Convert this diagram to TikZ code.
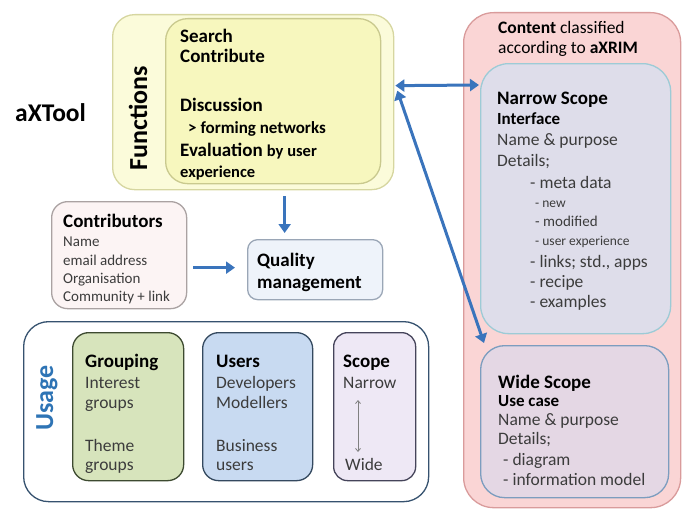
\documentclass[tikz,border=0pt]{standalone}
\usepackage{fontspec}
\setmainfont{Carlito}
\usetikzlibrary{arrows.meta}

\definecolor{funcOuterFill}{HTML}{FBFBDA}
\definecolor{funcOuterLine}{HTML}{D6D6A0}
\definecolor{funcInnerFill}{HTML}{F7F7BE}
\definecolor{funcInnerLine}{HTML}{C9C98E}
\definecolor{contribFill}{HTML}{FCF4F4}
\definecolor{contribLine}{HTML}{AAA2A2}
\definecolor{qualFill}{HTML}{EEF3FA}
\definecolor{qualLine}{HTML}{9AA6B6}
\definecolor{usageLine}{HTML}{36526F}
\definecolor{groupFill}{HTML}{D7E4BC}
\definecolor{groupLine}{HTML}{3D4A30}
\definecolor{userFill}{HTML}{C8DAF1}
\definecolor{userLine}{HTML}{34495F}
\definecolor{scopeFill}{HTML}{EEE8F5}
\definecolor{scopeLine}{HTML}{45445A}
\definecolor{contentFill}{HTML}{FAD5D5}
\definecolor{contentLine}{HTML}{D99B9B}
\definecolor{narrowFill}{HTML}{DEDDEA}
\definecolor{narrowLine}{HTML}{9DCBD6}
\definecolor{wideFill}{HTML}{E4D7E4}
\definecolor{wideLine}{HTML}{7C9DBF}
\definecolor{linkBlue}{HTML}{3A74BC}
\definecolor{usageBlue}{HTML}{2E74B5}
\definecolor{bodyText}{HTML}{3C3C3C}

\newcommand\fsz[1]{\fontsize{#1}{#1}\selectfont}

\tikzset{
  panel/.style={anchor=north west, inner sep=0pt, line width=1.3pt},
  hd/.style={anchor=base west, inner sep=0pt, font=\fsz{19}\bfseries, text=black},
  sub/.style={anchor=base west, inner sep=0pt, font=\fsz{17}\bfseries, text=black},
  body/.style={anchor=base west, inner sep=0pt, font=\fsz{17.5}, text=bodyText},
  small/.style={anchor=base west, inner sep=0pt, font=\fsz{15}, text=bodyText},
  tiny/.style={anchor=base west, inner sep=0pt, font=\fsz{13.5}, text=bodyText},
  link/.style={draw=linkBlue, line width=3pt,
    -{Triangle[width=12pt,length=9pt]}},
  biglink/.style={draw=linkBlue, line width=3pt,
    {Triangle[width=12pt,length=9pt]}-{Triangle[width=12pt,length=9pt]}},
}

\begin{document}
\begin{tikzpicture}[x=1pt,y=-1pt]
\useasboundingbox (0,0) rectangle (684,511);

% ---------- Functions ----------
\node[panel, draw=funcOuterLine, fill=funcOuterFill, rounded corners=22pt,
      minimum width=281pt, minimum height=175pt] (funcOuter) at (112,14) {};
\node[panel, draw=funcInnerLine, fill=funcInnerFill, rounded corners=22pt,
      minimum width=215pt, minimum height=165pt] (funcInner) at (165,18) {};
\node[anchor=base, rotate=90, inner sep=0pt, font=\fsz{26}\bfseries]
      (funcLabel) at (147,118) {Functions};
\node[anchor=base west, inner sep=0pt, font=\fsz{25.5}\bfseries] (tool) at (15,121) {aXTool};

\node[hd] (fSearch) at (180,42) {Search};
\node[hd] (fContrib) at (180,63) {Contribute};
\node[hd] (fDisc) at (180,111) {Discussion};
\node[sub] (fForm) at (188,133) {> forming networks};
\node[hd] (fEval) at (180,156) {Evaluation {\fsz{16.5}by user}};
\node[sub, font=\fsz{16.5}\bfseries] (fExp) at (180,177) {experience};

% ---------- Contributors / Quality ----------
\node[panel, draw=contribLine, fill=contribFill, rounded corners=16pt,
      minimum width=135pt, minimum height=107pt] (contrib) at (51,201) {};
\node[hd] (cTitle) at (63,227) {Contributors};
\node[small] (cName) at (63,246) {Name};
\node[small] (cMail) at (63,265) {email address};
\node[small] (cOrg) at (63,283) {Organisation};
\node[small] (cComm) at (63,301) {Community + link};

\node[panel, draw=qualLine, fill=qualFill, rounded corners=10pt,
      minimum width=135pt, minimum height=60pt] (qual) at (247,239) {};
\node[hd] (qTop) at (257,266) {Quality};
\node[hd] (qBot) at (257,288) {management};

\draw[link] ([xshift=31.5pt,yshift=-6pt]funcOuter.south) -- ([xshift=-30.5pt,yshift=6pt]qual.north);
\draw[link] ([xshift=6pt,yshift=-12.5pt]contrib.east) -- ([xshift=-12pt,yshift=2pt]qual.west);

% ---------- Usage ----------
\node[panel, draw=usageLine, fill=white, rounded corners=25pt,
      minimum width=405pt, minimum height=180pt] (usage) at (23,321) {};
\node[anchor=base, rotate=90, inner sep=0pt, font=\fsz{26}\bfseries, text=usageBlue]
      (usageLabel) at (53,398) {Usage};

\node[panel, draw=groupLine, fill=groupFill, rounded corners=16pt,
      minimum width=111pt, minimum height=148pt] (grp) at (72,332) {};
\node[hd] (gTitle) at (85,367) {Grouping};
\node[body] (g1) at (85,388) {Interest};
\node[body] (g2) at (85,408) {groups};
\node[body] (g3) at (85,451) {Theme};
\node[body] (g4) at (85,470) {groups};

\node[panel, draw=userLine, fill=userFill, rounded corners=16pt,
      minimum width=110pt, minimum height=148pt] (usr) at (202,332) {};
\node[hd] (uTitle) at (216,367) {Users};
\node[body] (u1) at (216,388) {Developers};
\node[body] (u2) at (216,408) {Modellers};
\node[body] (u3) at (216,451) {Business};
\node[body] (u4) at (216,470) {users};

\node[panel, draw=scopeLine, fill=scopeFill, rounded corners=14pt,
      minimum width=82pt, minimum height=148pt] (scp) at (333,332) {};
\node[hd] (sTitle) at (343,367) {Scope};
\node[body] (sNarrow) at (343,388) {Narrow};
\node[body] (sWide) at (345,470) {Wide};
\coordinate (scTop) at (358,400);
\coordinate (scBot) at (358,452);
\draw[draw=gray, line width=0.8pt, {Straight Barb[length=3pt,width=5pt]}-{Straight Barb[length=3pt,width=5pt]}]
      (scTop) -- (scBot);

% ---------- Content ----------
\node[panel, draw=contentLine, fill=contentFill, rounded corners=30pt,
      minimum width=217pt, minimum height=495pt] (content) at (463,12) {};
\node[body, text=black] (ct1) at (498,34) {\textbf{Content} classified};
\node[body, text=black] (ct2) at (498,53) {according to \textbf{aXRIM}};

\node[panel, draw=narrowLine, fill=narrowFill, rounded corners=28pt,
      minimum width=190pt, minimum height=270pt] (narrow) at (480,63) {};
\node[hd] (nTitle) at (497,104) {Narrow Scope};
\node[sub] (nIf) at (497,124) {Interface};
\node[body] (nName) at (497,145) {Name \& purpose};
\node[body] (nDet) at (497,166) {Details;};
\node[body] (nMeta) at (530,188) {- meta data};
\node[tiny] (nNew) at (535,207) {- new};
\node[small] (nMod) at (535,226) {- modified};
\node[tiny] (nUx) at (535,245) {- user experience};
\node[body] (nLinks) at (530,267) {- links; std., apps};
\node[body] (nRec) at (530,287) {- recipe};
\node[body] (nEx) at (530,307) {- examples};

\node[panel, draw=wideLine, fill=wideFill, rounded corners=24pt,
      minimum width=188pt, minimum height=152pt] (wide) at (480,345) {};
\node[hd] (wTitle) at (498,388) {Wide Scope};
\node[sub] (wUse) at (498,406) {Use case};
\node[body] (wName) at (498,425) {Name \& purpose};
\node[body] (wDet) at (498,444) {Details;};
\node[body] (wDia) at (503,465) {- diagram};
\node[body] (wInf) at (503,485) {- information model};

% ---------- links to the content ----------
\draw[biglink] ([xshift=1pt,yshift=16.5pt]funcOuter.east) -- ([xshift=-1pt,yshift=-22pt]narrow.north west);
\draw[biglink] ([xshift=3pt,yshift=11.5pt]funcOuter.east) -- ([xshift=4pt,yshift=2pt]wide.north west);

\end{tikzpicture}
\end{document}
